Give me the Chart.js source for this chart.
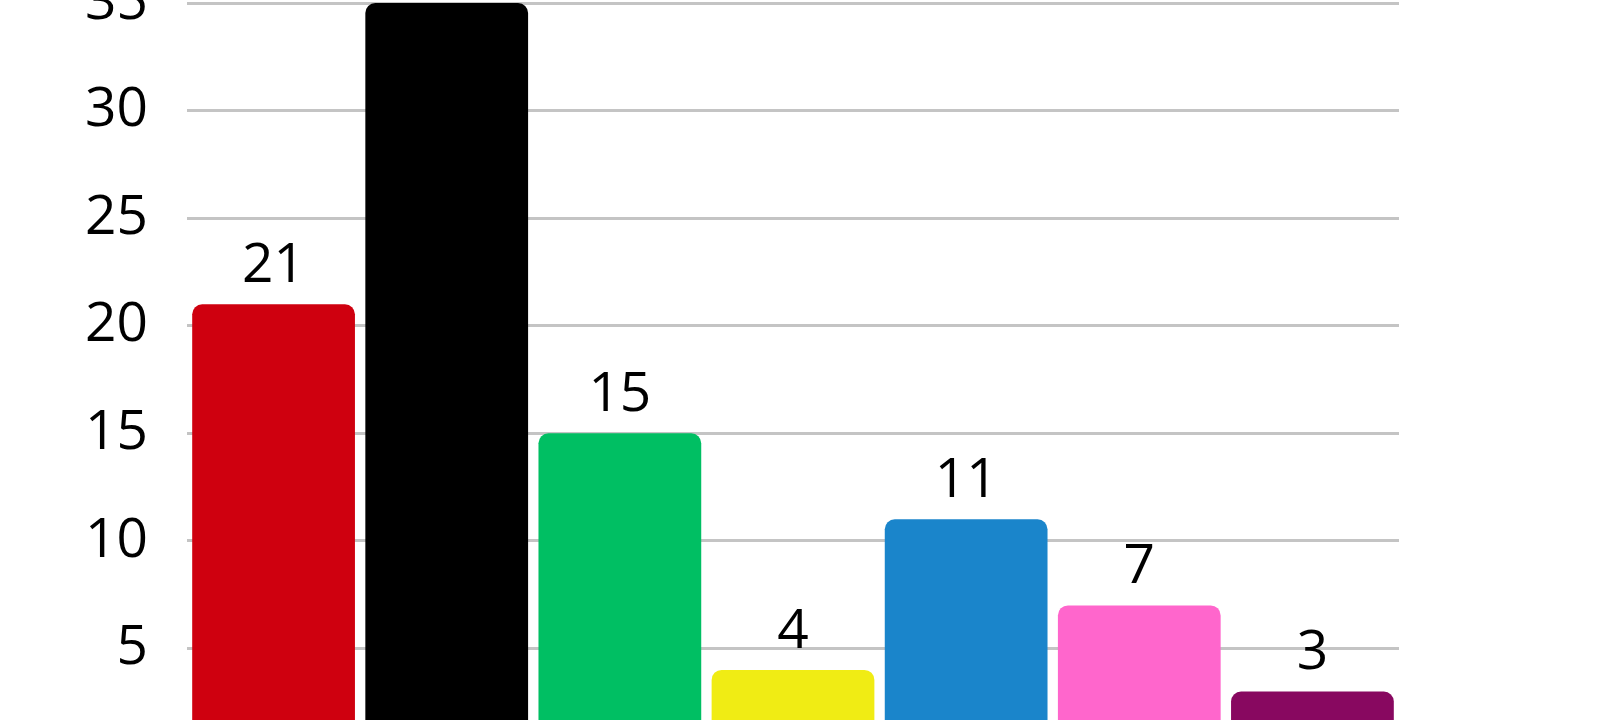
<!DOCTYPE html>
<html>
<head>
<meta charset="utf-8">
<script src="https://cdn.jsdelivr.net/npm/chart.js@4"></script>
<style>
  html, body { margin: 0; padding: 0; background: #fff; overflow: hidden; }
  #wrap { position: absolute; left: 0; top: -69px; width: 1600px; height: 897px; }
</style>
</head>
<body>
<div id="wrap"><canvas id="chart"></canvas></div>
<script>
// chart data
const categories = ['A', 'B', 'C', 'D', 'E', 'F', 'G'];
const values = [21, 35, 15, 4, 11, 7, 3];
const barColors = ['#cf000f', '#000000', '#00bf63', '#f0ec14', '#1a85cb', '#ff66cc', '#880860'];
const yTicks = [0, 5, 10, 15, 20, 25, 30, 35];

const FONT = '"Open Sans", sans-serif';

// draws the value above each bar
const valueLabels = {
  id: 'valueLabels',
  afterDatasetsDraw(chart) {
    const ctx = chart.ctx;
    const meta = chart.getDatasetMeta(0);
    ctx.save();
    ctx.font = '55px ' + FONT;
    ctx.fillStyle = '#000';
    ctx.textAlign = 'center';
    ctx.textBaseline = 'alphabetic';
    meta.data.forEach((bar, i) => {
      ctx.fillText(String(values[i]), bar.x, bar.y - 22);
    });
    ctx.restore();
  }
};

const canvas = document.getElementById('chart');
new Chart(canvas, {
  type: 'bar',
  data: {
    labels: categories,
    datasets: [{
      data: values,
      backgroundColor: barColors,
      borderRadius: { topLeft: 10, topRight: 10 },
      borderSkipped: 'bottom',
      categoryPercentage: 1,
      barPercentage: 0.94,
    }],
  },
  options: {
    responsive: true,
    maintainAspectRatio: false,
    animation: false,
    layout: { padding: { left: 0, right: 201, top: 0, bottom: 0 } },
    plugins: {
      legend: { display: false },
      tooltip: { enabled: false },
    },
    scales: {
      x: { display: false },
      y: {
        min: 0,
        max: 35,
        afterFit: (scale) => { scale.width = 187; },
        afterBuildTicks: (scale) => { scale.ticks = yTicks.map((v) => ({ value: v })); },
        border: { display: false },
        grid: { color: '#c4c4c4', lineWidth: 3, drawTicks: false },
        ticks: {
          padding: 39,
          color: '#000',
          font: { family: FONT, size: 55 },
        },
      },
    },
  },
  plugins: [valueLabels],
});
</script>
</body>
</html>
